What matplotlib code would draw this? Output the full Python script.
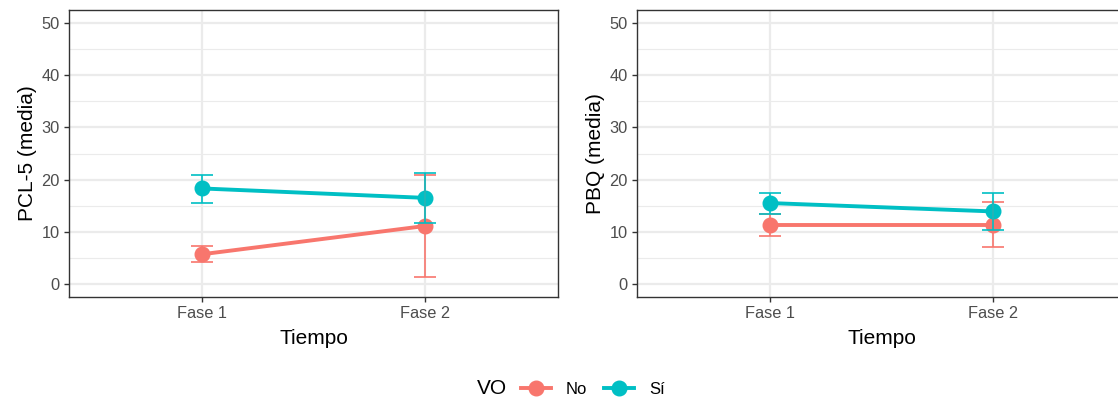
import matplotlib
matplotlib.use("Agg")
import matplotlib.pyplot as plt
from matplotlib.lines import Line2D
import numpy as np

plt.rcParams['font.family'] = ['Liberation Sans', 'DejaVu Sans']

# datos
fases = ["Fase 1", "Fase 2"]
grupos = ["No", "Sí"]
colores = {"No": "#F8766D", "Sí": "#00BFC4"}

# PCL-5
pcl_media = {"No": [5.7, 11.1], "Sí": [18.3, 16.5]}
pcl_inf = {"No": [4.3, 1.3], "Sí": [15.6, 11.7]}
pcl_sup = {"No": [7.3, 20.9], "Sí": [20.8, 21.3]}

# PBQ
pbq_media = {"No": [11.3, 11.3], "Sí": [15.5, 13.9]}
pbq_inf = {"No": [9.1, 7.1], "Sí": [13.5, 10.4]}
pbq_sup = {"No": [13.5, 15.7], "Sí": [17.4, 17.4]}

W, H = 1118, 401
fig = plt.figure(figsize=(W / 100, H / 100), dpi=100)

def panel(rect, media, inf, sup, ylabel):
    ax = fig.add_axes(rect)
    x = np.arange(len(fases))
    for g in grupos:
        m = np.array(media[g])
        lo = m - np.array(inf[g])
        hi = np.array(sup[g]) - m
        ax.plot(x, m, color=colores[g], lw=2.8, zorder=3, solid_capstyle='butt')
        ax.plot(x, m, 'o', color=colores[g], ms=10.5, zorder=4)
        ax.errorbar(x, m, yerr=[lo, hi], fmt='none', ecolor=colores[g],
                    elinewidth=1.2, capsize=8, capthick=1.2, zorder=5)
    ax.set_xlim(-0.6, 1.6)
    ax.set_ylim(-2.5, 52.5)
    ax.set_xticks(x)
    ax.set_xticklabels(fases)
    ax.set_yticks(range(0, 51, 10))
    ax.set_yticks(range(5, 51, 10), minor=True)
    ax.grid(which='major', color='#EBEBEB', lw=1.6, zorder=0)
    ax.grid(which='minor', axis='y', color='#EBEBEB', lw=0.8, zorder=0)
    ax.set_axisbelow(True)
    ax.tick_params(which='major', length=3.5, width=1.0, color='#333333',
                   labelcolor='#4D4D4D', labelsize=11.8, pad=3)
    ax.tick_params(which='minor', length=0)
    for s in ax.spines.values():
        s.set_color('#333333')
        s.set_linewidth(1.0)
    ax.set_xlabel("Tiempo", fontsize=15, labelpad=6)
    ax.set_ylabel(ylabel, fontsize=15, labelpad=3)
    return ax

top, bot = 10, 297
alto = (bot - top) / H
panel([69 / W, 1 - bot / H, 489 / W, alto], pcl_media, pcl_inf, pcl_sup, "PCL-5 (media)")
panel([637 / W, 1 - bot / H, 489 / W, alto], pbq_media, pbq_inf, pbq_sup, "PBQ (media)")

# leyenda
fig.text(477 / W, 1 - 389 / H, "VO", fontsize=15, va='center', ha='left')
handles = [Line2D([0], [0], color=colores[g], lw=2.8, marker='o', ms=10.5) for g in grupos]
fig.legend(handles, grupos, loc='center left', bbox_to_anchor=(521 / W, 1 - 389 / H),
           ncol=2, frameon=False, fontsize=12, handlelength=1.8, handletextpad=0.9,
           columnspacing=1.0, borderaxespad=0, borderpad=0)

fig.savefig("out.png", dpi=100)
